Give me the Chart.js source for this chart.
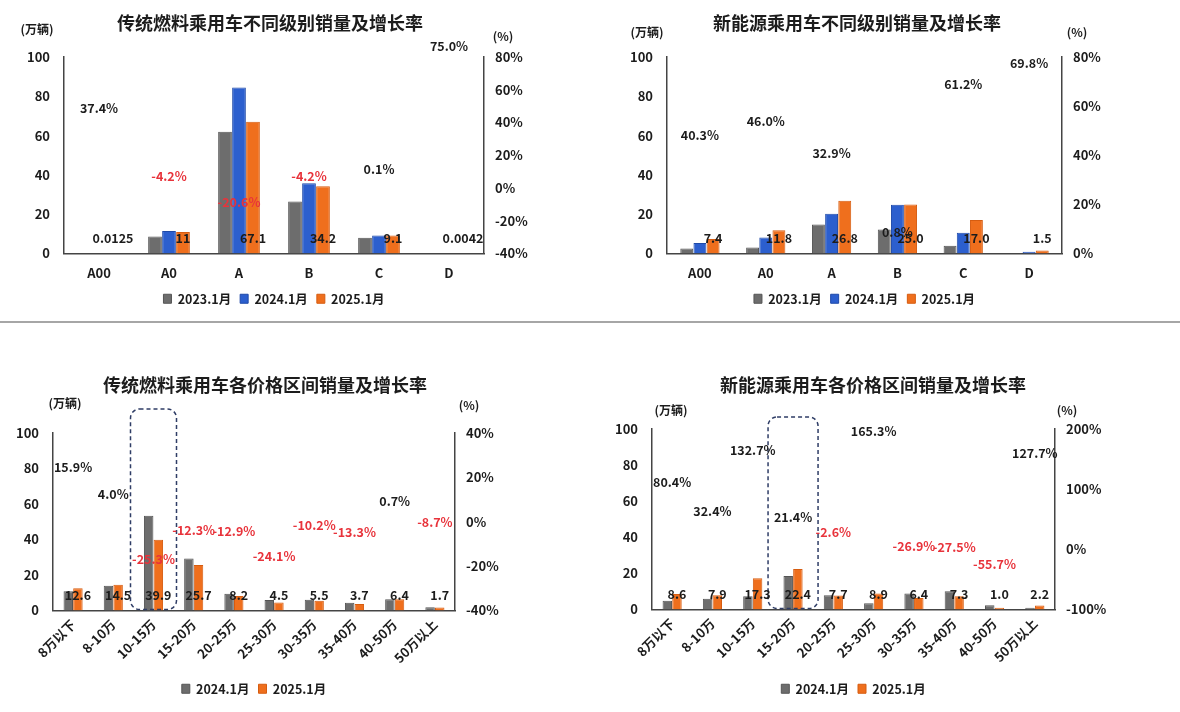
<!DOCTYPE html>
<html>
<head>
<meta charset="utf-8">
<script src="https://cdn.jsdelivr.net/npm/chart.js@4/dist/chart.umd.min.js"></script>
<style>
  body { margin: 0; background: #fff; }
  .wrap { position: relative; width: 1180px; height: 712px; overflow: hidden; }
  .box { position: absolute; }
  .sep { position: absolute; left: 0; top: 321px; width: 1180px; height: 2px; background: #a6a6a6; }
</style>
</head>
<body>
<div class="wrap">
  <div class="box" style="left:0;top:0"><canvas id="c1" width="590" height="320"></canvas></div>
  <div class="box" style="left:590px;top:0"><canvas id="c2" width="590" height="320"></canvas></div>
  <div class="sep"></div>
  <div class="box" style="left:0;top:330px"><canvas id="c3" width="590" height="382"></canvas></div>
  <div class="box" style="left:590px;top:330px"><canvas id="c4" width="590" height="382"></canvas></div>
</div>
<script>
// ---- data ----
const levelCats = ['A00', 'A0', 'A', 'B', 'C', 'D'];
const priceCats = ['8万以下', '8-10万', '10-15万', '15-20万', '20-25万', '25-30万', '30-35万', '35-40万', '40-50万', '50万以上'];

// 传统燃料 不同级别 (万辆)
const fuelLv2023 = [0.009, 8.6, 62.0, 26.4, 8.0, 0.002];
const fuelLv2024 = [0.0091, 11.5, 84.5, 35.7, 9.1, 0.0024];
const fuelLv2025 = [0.0125, 11, 67.1, 34.2, 9.1, 0.0042];
const fuelLvGrowth = [37.4, -4.2, -20.6, -4.2, 0.1, 75.0];

// 新能源 不同级别 (万辆)
const nevLv2023 = [2.6, 3.1, 14.8, 12.2, 3.9, 0.3];
const nevLv2024 = [5.3, 8.1, 20.2, 24.8, 10.5, 0.9];
const nevLv2025 = [7.4, 11.8, 26.8, 25.0, 17.0, 1.5];
const nevLvGrowth = [40.3, 46.0, 32.9, 0.8, 61.2, 69.8];

// 传统燃料 各价格区间 (万辆)
const fuelPr2024 = [10.9, 13.9, 53.4, 29.3, 9.4, 5.9, 6.1, 4.3, 6.4, 1.9];
const fuelPr2025 = [12.6, 14.5, 39.9, 25.7, 8.2, 4.5, 5.5, 3.7, 6.4, 1.7];
const fuelPrGrowth = [15.9, 4.0, -25.3, -12.3, -12.9, -24.1, -10.2, -13.3, 0.7, -8.7];

// 新能源 各价格区间 (万辆)
const nevPr2024 = [4.8, 6.0, 7.4, 18.5, 7.9, 3.4, 8.8, 10.1, 2.3, 1.0];
const nevPr2025 = [8.6, 7.9, 17.3, 22.4, 7.7, 8.9, 6.4, 7.3, 1.0, 2.2];
const nevPrGrowth = [80.4, 32.4, 132.7, 21.4, -2.6, 165.3, -26.9, -27.5, -55.7, 127.7];

// ---- style ----
const FONT = '"Noto Sans CJK SC", "Noto Sans", sans-serif';
const GRAY = '#6d6d6d', BLUE = '#2c5fce', ORANGE = '#ef6f1d';
const INK = '#1c1c1c', RED = '#e8333b';

Chart.defaults.font.family = FONT;
Chart.defaults.font.weight = 'bold';
Chart.defaults.color = INK;

// labels, titles, units, highlight box
const decoPlugin = {
  id: 'deco',
  afterDatasetsDraw(chart, args, o) {
    const ctx = chart.ctx;
    const ds = chart.data.datasets;
    ctx.save();

    if (o.hi) {
      const xs = chart.scales.x;
      const cx = xs.getPixelForValue(o.hi.index);
      const x0 = cx - o.hi.half, x1 = cx + o.hi.half;
      const y0 = o.hi.top, y1 = chart.chartArea.bottom - 1;
      ctx.strokeStyle = '#2f3d66';
      ctx.lineWidth = 1.5;
      ctx.setLineDash([4, 3]);
      ctx.beginPath();
      ctx.roundRect(x0, y0, x1 - x0, y1 - y0, 9);
      ctx.stroke();
      ctx.setLineDash([]);
    }

    ctx.textAlign = 'center';
    ctx.textBaseline = 'middle';
    ctx.font = 'bold 12.5px ' + FONT;

    // latest-month values near the bottom of the bars
    const vm = chart.getDatasetMeta(o.valueSet);
    vm.data.forEach((bar, i) => {
      ctx.fillStyle = INK;
      ctx.fillText(o.fmt(ds[o.valueSet].data[i]), bar.x, bar.base - 15);
    });

    // growth rates (hidden line on right axis)
    const gi = ds.length - 1;
    chart.getDatasetMeta(gi).data.forEach((pt, i) => {
      const v = ds[gi].data[i];
      ctx.fillStyle = v < 0 ? RED : INK;
      ctx.fillText(v.toFixed(1) + '%', pt.x, pt.y - 19);
    });

    // title and units
    ctx.fillStyle = INK;
    ctx.font = 'bold 18px ' + FONT;
    ctx.fillText(o.title.text, o.title.x, o.title.y);
    ctx.font = 'bold 12px ' + FONT;
    ctx.fillText('(万辆)', o.units.lx, o.units.ly);
    ctx.fillText('(%)', o.units.rx, o.units.ry);
    ctx.restore();
  }
};

function makeChart(id, cfg) {
  const barSets = cfg.series.map(s => ({
    type: 'bar',
    label: s.label,
    data: s.data,
    backgroundColor: s.color,
    borderColor: s.border,
    borderWidth: 1,
    yAxisID: 'y',
    categoryPercentage: cfg.catPct,
    barPercentage: 0.98,
    order: 2
  }));
  const growthSet = {
    type: 'line',
    label: '增长率',
    data: cfg.growth,
    yAxisID: 'y1',
    showLine: false,
    pointRadius: 0,
    order: 1
  };
  return new Chart(document.getElementById(id), {
    data: { labels: cfg.labels, datasets: [...barSets, growthSet] },
    plugins: [decoPlugin],
    options: {
      responsive: false,
      animation: false,
      layout: { padding: cfg.pad },
      plugins: {
        legend: {
          position: 'bottom',
          fullSize: false,
          labels: {
            filter: item => item.text !== '增长率',
            boxWidth: 8, boxHeight: 9,
            padding: 9,
            font: { size: 12.5, weight: 'bold' },
            color: INK
          }
        },
        tooltip: { enabled: false },
        deco: {
          valueSet: cfg.series.length - 1,
          fmt: cfg.fmt,
          title: cfg.title,
          units: cfg.units,
          hi: cfg.hi
        }
      },
      scales: {
        x: {
          grid: { display: false, drawTicks: false },
          border: { display: true, color: '#444', width: 1.5 },
          ticks: {
            font: { size: 13, weight: 'bold' }, color: INK,
            padding: cfg.xPad,
            maxRotation: cfg.rot, minRotation: cfg.rot
          },
          afterFit: s => { s.height = cfg.xH; }
        },
        y: {
          position: 'left',
          min: 0, max: 100,
          grid: { display: false, drawTicks: false },
          border: { display: true, color: '#444', width: 1.5 },
          ticks: { stepSize: 20, padding: 14, font: { size: 13, weight: 'bold' }, color: INK },
          afterFit: s => { s.width = cfg.yW; }
        },
        y1: {
          position: 'right',
          min: cfg.r.min, max: cfg.r.max,
          grid: { display: false, drawTicks: false },
          border: { display: true, color: '#444', width: 1.5 },
          ticks: {
            stepSize: cfg.r.step, padding: 11,
            font: { size: 13, weight: 'bold' }, color: INK,
            callback: v => v + '%'
          },
          afterFit: s => { s.width = cfg.y1W; }
        }
      }
    }
  });
}

makeChart('c1', {
  labels: levelCats,
  series: [
    { label: '2023.1月', data: fuelLv2023, color: GRAY, border: '#555' },
    { label: '2024.1月', data: fuelLv2024, color: BLUE, border: '#1f4aa8' },
    { label: '2025.1月', data: fuelLv2025, color: ORANGE, border: '#d65c10' }
  ],
  growth: fuelLvGrowth,
  fmt: v => String(v),
  catPct: 0.6,
  r: { min: -40, max: 80, step: 20 },
  pad: { top: 57, left: 0, right: 0, bottom: 5 },
  yW: 64, y1W: 106, xH: 30, xPad: 12, rot: 0,
  title: { text: '传统燃料乘用车不同级别销量及增长率', x: 270, y: 23 },
  units: { lx: 37, ly: 29, rx: 503, ry: 36 }
});

makeChart('c2', {
  labels: levelCats,
  series: [
    { label: '2023.1月', data: nevLv2023, color: GRAY, border: '#555' },
    { label: '2024.1月', data: nevLv2024, color: BLUE, border: '#1f4aa8' },
    { label: '2025.1月', data: nevLv2025, color: ORANGE, border: '#d65c10' }
  ],
  growth: nevLvGrowth,
  fmt: v => v.toFixed(1),
  catPct: 0.6,
  r: { min: 0, max: 80, step: 20 },
  pad: { top: 57, left: 0, right: 0, bottom: 5 },
  yW: 77, y1W: 118, xH: 30, xPad: 12, rot: 0,
  title: { text: '新能源乘用车不同级别销量及增长率', x: 267, y: 23 },
  units: { lx: 57, ly: 32, rx: 487, ry: 32 }
});

makeChart('c3', {
  labels: priceCats,
  series: [
    { label: '2024.1月', data: fuelPr2024, color: GRAY, border: '#555' },
    { label: '2025.1月', data: fuelPr2025, color: ORANGE, border: '#d65c10' }
  ],
  growth: fuelPrGrowth,
  fmt: v => v.toFixed(1),
  catPct: 0.48,
  r: { min: -40, max: 40, step: 20 },
  pad: { top: 103, left: 0, right: 0, bottom: 7 },
  yW: 53, y1W: 135, xH: 63, xPad: 6, rot: 45,
  title: { text: '传统燃料乘用车各价格区间销量及增长率', x: 265, y: 55 },
  units: { lx: 65, ly: 73, rx: 469, ry: 75 },
  hi: { index: 2, half: 23, top: 79 }
});

makeChart('c4', {
  labels: priceCats,
  series: [
    { label: '2024.1月', data: nevPr2024, color: GRAY, border: '#555' },
    { label: '2025.1月', data: nevPr2025, color: ORANGE, border: '#d65c10' }
  ],
  growth: nevPrGrowth,
  fmt: v => v.toFixed(1),
  catPct: 0.48,
  r: { min: -100, max: 200, step: 100 },
  pad: { top: 99, left: 0, right: 0, bottom: 7 },
  yW: 62, y1W: 125, xH: 64, xPad: 6, rot: 45,
  title: { text: '新能源乘用车各价格区间销量及增长率', x: 283, y: 55 },
  units: { lx: 81, ly: 80, rx: 477, ry: 80 },
  hi: { index: 3, half: 25, top: 87 }
});
</script>
</body>
</html>
